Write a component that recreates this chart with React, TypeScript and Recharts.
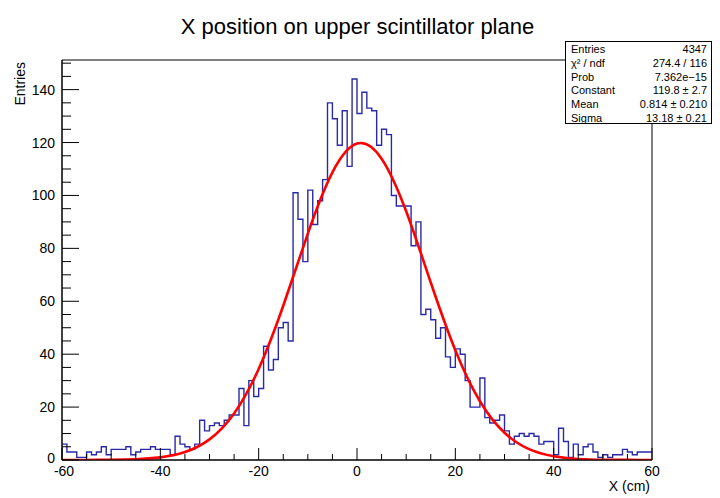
import { ComposedChart, Line, ReferenceArea, XAxis, YAxis } from "recharts";

// histogram: 120 bins of 1 cm from -60 to 60
const HIST_X_MIN = -60;
const HIST_BIN_WIDTH = 1;
const HIST_COUNTS = [
  6, 3, 3, 1, 1, 3, 2, 3, 5, 2,
  4, 4, 4, 5, 2, 3, 4, 4, 5, 4,
  4, 4, 2, 9, 6, 5, 4, 6, 15, 11,
  13, 14, 13, 15, 17, 17, 27, 13, 30, 24,
  27, 43, 34, 38, 50, 52, 45, 101, 91, 75,
  102, 89, 98, 106, 135, 129, 119, 132, 111, 144,
  131, 139, 133, 132, 119, 125, 123, 100, 96, 96,
  96, 81, 90, 55, 57, 53, 46, 50, 39, 35,
  42, 40, 30, 20, 20, 31, 16, 14, 15, 17,
  11, 6, 9, 10, 9, 10, 9, 6, 7, 7,
  2, 12, 7, 1, 6, 2, 5, 6, 3, 1,
  2, 1, 2, 2, 4, 3, 2, 3, 3, 3,
];

// gaussian fit curve
const FIT_X = [-60, -55, -50, -45, -40, -35, -30, -25, -20, -15, -10, -5, 0, 5, 10, 15, 20, 25, 30, 35, 40, 45, 50, 55, 60];
const FIT_Y = [0, 0.02, 0.07, 0.29, 0.99, 2.99, 7.8, 17.6, 34.4, 58.3, 85.6, 108.7, 119.6, 113.9, 94.0, 67.1, 41.5, 22.2, 10.3, 4.1, 1.4, 0.4, 0.1, 0.03, 0];

const X_TICKS = [-60, -55, -50, -45, -40, -35, -30, -25, -20, -15, -10, -5, 0, 5, 10, 15, 20, 25, 30, 35, 40, 45, 50, 55, 60];
const Y_TICKS = [0, 5, 10, 15, 20, 25, 30, 35, 40, 45, 50, 55, 60, 65, 70, 75, 80, 85, 90, 95, 100, 105, 110, 115, 120, 125, 130, 135, 140, 145, 150];
const Y_MAX = 151.2;

const STAT_LABELS = ["Entries", "χ² / ndf", "Prob", "Constant", "Mean", "Sigma"];
const STAT_VALUES = ["4347", "274.4 / 116", "7.362e−15", "119.8 ± 2.7", "0.814 ± 0.210", "13.18 ± 0.21"];

const FONT = '"Liberation Sans", Arial, Helvetica, sans-serif';
const TICK_MARGIN = 4;

const histData = HIST_COUNTS.map((c, i) => ({ x: HIST_X_MIN + i * HIST_BIN_WIDTH, y: c }));
histData.push({ x: HIST_X_MIN + HIST_COUNTS.length * HIST_BIN_WIDTH, y: HIST_COUNTS[HIST_COUNTS.length - 1] });

const fitData = FIT_X.map((x, i) => ({ x, y: FIT_Y[i] }));

const XTick = (props: any) => {
  const { x, y, payload } = props;
  const v = payload.value;
  const major = v % 20 === 0;
  const base = y - TICK_MARGIN;
  return (
    <g>
      <line x1={x} x2={x} y1={base} y2={base - (major ? 12 : 6)} stroke="#000" strokeWidth={1} />
      {major && (
        <text x={x + (v === -60 ? 2 : 0)} y={base + 16} textAnchor="middle" fontSize={14} fontFamily={FONT} fill="#000">
          {v}
        </text>
      )}
    </g>
  );
};

const YTick = (props: any) => {
  const { x, y, payload } = props;
  const v = payload.value;
  const major = v % 20 === 0;
  const base = x + TICK_MARGIN;
  return (
    <g>
      <line x1={base} x2={base + (major ? 17 : 9)} y1={y} y2={y} stroke="#000" strokeWidth={1} />
      {major && (
        <text x={base - 7} y={y + (v === 0 ? 3 : 5)} textAnchor="end" fontSize={14} fontFamily={FONT} fill="#000">
          {v}
        </text>
      )}
    </g>
  );
};

export default function App() {
  return (
    <div style={{ position: "absolute", left: 0, top: 0, width: 720, height: 498, background: "#fff", fontFamily: FONT }}>
      <div style={{ position: "absolute", left: 0, width: 715, top: 14, textAlign: "center", fontSize: 22, color: "#000" }}>
        X position on upper scintillator plane
      </div>

      <ComposedChart width={720} height={498} margin={{ top: 60, right: 68, bottom: 0, left: 0 }}>
        <XAxis
          type="number"
          dataKey="x"
          domain={[-60, 60]}
          ticks={X_TICKS}
          interval={0}
          height={38}
          tickSize={0}
          tickMargin={TICK_MARGIN}
          tickLine={false}
          axisLine={{ stroke: "#000" }}
          tick={<XTick />}
          allowDataOverflow
        />
        <YAxis
          type="number"
          domain={[0, Y_MAX]}
          ticks={Y_TICKS}
          interval={0}
          width={62}
          tickSize={0}
          tickMargin={TICK_MARGIN}
          tickLine={false}
          axisLine={{ stroke: "#000" }}
          tick={<YTick />}
          allowDataOverflow
        />
        <ReferenceArea x1={-60} x2={60} y1={0} y2={Y_MAX} fill="none" stroke="#000" strokeWidth={1} />
        <Line
          data={histData}
          dataKey="y"
          type="stepAfter"
          stroke="#2a2aa6"
          strokeWidth={1.4}
          dot={false}
          activeDot={false}
          isAnimationActive={false}
        />
        <Line
          data={fitData}
          dataKey="y"
          type="natural"
          stroke="#ff0000"
          strokeWidth={2.6}
          dot={false}
          activeDot={false}
          isAnimationActive={false}
        />
      </ComposedChart>

      <div
        style={{
          position: "absolute",
          left: 12,
          top: 62,
          fontSize: 14,
          transform: "rotate(-90deg)",
          transformOrigin: "left top",
          whiteSpace: "nowrap",
        }}
      >
        <div style={{ transform: "translateX(-100%)" }}>Entries</div>
      </div>

      <div style={{ position: "absolute", right: 70, top: 478, fontSize: 14 }}>X (cm)</div>

      <div
        style={{
          position: "absolute",
          left: 565,
          top: 41,
          width: 147,
          height: 83,
          border: "1px solid #000",
          background: "#fff",
          fontSize: 11,
          lineHeight: "13.8px",
          padding: "1px 4px 0 5px",
          boxSizing: "border-box",
        }}
      >
        {STAT_LABELS.map((label, i) => (
          <div key={label} style={{ display: "flex", justifyContent: "space-between" }}>
            <span>{label}</span>
            <span>{STAT_VALUES[i]}</span>
          </div>
        ))}
      </div>
    </div>
  );
}
